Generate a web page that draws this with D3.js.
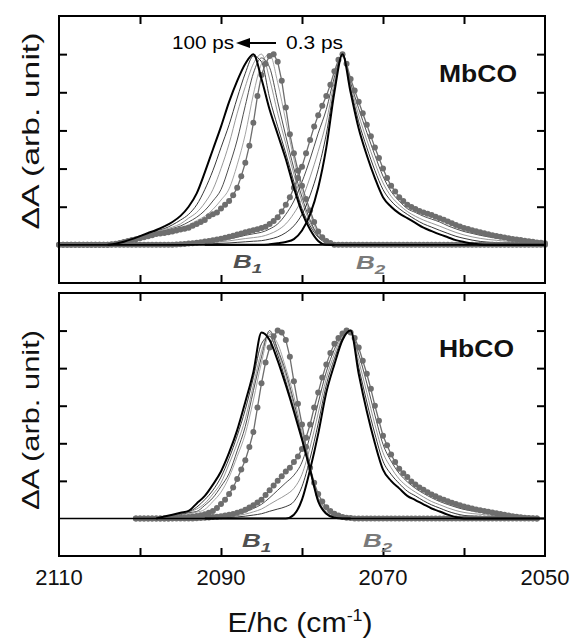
<!DOCTYPE html>
<html>
<head>
<meta charset="utf-8">
<script src="https://cdn.jsdelivr.net/npm/d3@7"></script>
<style>
  body { margin: 0; background: #fff; }
  svg { display: block; font-family: "Liberation Sans", Arial, sans-serif; }
</style>
</head>
<body>
<svg id="chart" width="575" height="639"></svg>
<script>
// ---- sampling grids (cm-1) ----
// traces are sampled every 1 cm-1, the 0.3 ps (dotted) spectra every 0.5 cm-1
var mbB1Start = 2104, mbB2Start = 2092;
var hbB1Start = 2098, hbB2Start = 2092;
var mbDotStart = 2110, hbDotStart = 2100.5, dotStep = 0.5;

var xTicks = [2100, 2090, 2080, 2070, 2060];
var xTickLabels = [2110, 2090, 2070, 2050];
var yTicks = [0.2, 0.4, 0.6, 0.8, 1.0];

// ---- MbCO, B1 band ----
var mbB1_100ps = [0, 0.006, 0.016, 0.03, 0.046, 0.062, 0.078, 0.097, 0.12, 0.152, 0.20, 0.27, 0.38, 0.50, 0.62,
    0.75, 0.86, 0.95, 1.0, 0.87, 0.71, 0.58, 0.45, 0.30, 0.17, 0.08, 0.02, 0, 0];
var mbB1_mid = [
    [0, 0.01, 0.02, 0.03, 0.045, 0.06, 0.075, 0.085, 0.105, 0.13, 0.16, 0.21, 0.29, 0.39, 0.51,
        0.63, 0.77, 0.90, 0.99, 0.96, 0.77, 0.62, 0.48, 0.33, 0.19, 0.10, 0.04, 0.01, 0],
    [0, 0.01, 0.019, 0.028, 0.04, 0.053, 0.067, 0.08, 0.093, 0.11, 0.14, 0.17, 0.22, 0.29, 0.40,
        0.53, 0.69, 0.83, 0.95, 1.0, 0.87, 0.69, 0.53, 0.37, 0.225, 0.117, 0.044, 0.012, 0],
    [0, 0.009, 0.018, 0.027, 0.038, 0.05, 0.061, 0.074, 0.086, 0.099, 0.12, 0.145, 0.18, 0.23, 0.29,
        0.41, 0.55, 0.73, 0.90, 0.98, 0.93, 0.75, 0.57, 0.40, 0.25, 0.13, 0.047, 0.018, 0],
    [0, 0.009, 0.018, 0.027, 0.036, 0.047, 0.057, 0.068, 0.08, 0.091, 0.105, 0.127, 0.15, 0.186, 0.235,
        0.294, 0.42, 0.58, 0.79, 0.95, 1.0, 0.85, 0.65, 0.45, 0.28, 0.16, 0.06, 0.024, 0]
];
var mbB1_03ps = [
    0, 0, 0, 0, 0, 0, 0, 0, 0, 0, 0, 0, 0,
    0.003, 0.006, 0.01, 0.015, 0.02, 0.025, 0.03, 0.035, 0.04, 0.045,
    0.05, 0.057, 0.06, 0.062, 0.066, 0.07, 0.075, 0.08, 0.085, 0.09,
    0.10, 0.11, 0.12, 0.13, 0.15, 0.16, 0.17, 0.19, 0.21, 0.23,
    0.26, 0.30, 0.36, 0.43, 0.52, 0.64, 0.78, 0.89, 0.95, 0.99,
    1.0, 0.96, 0.86, 0.72, 0.58, 0.48, 0.39, 0.31, 0.24, 0.18,
    0.12, 0.07, 0.04, 0.02, 0.01, 0,
    0, 0, 0, 0, 0, 0, 0, 0, 0, 0,
    0, 0, 0, 0, 0, 0, 0, 0, 0, 0,
    0, 0, 0, 0, 0, 0, 0, 0, 0, 0,
    0, 0, 0, 0, 0, 0, 0, 0, 0, 0,
    0, 0, 0, 0, 0, 0, 0, 0, 0, 0,
    0, 0
];

// ---- MbCO, B2 band ----
var mbB2_100ps = [0, 0, 0, 0, 0, 0, 0, 0,
    0.003, 0.008, 0.015, 0.03, 0.075, 0.16, 0.30, 0.51, 0.80, 1.0, 0.80, 0.61, 0.47, 0.35, 0.25,
    0.20, 0.165, 0.14, 0.115, 0.09, 0.072, 0.055, 0.04, 0.025, 0.015, 0.007, 0.002,
    0, 0, 0, 0, 0, 0, 0, 0];
var mbB2_mid = [
    [0.004, 0.006, 0.008, 0.01, 0.013, 0.016, 0.019, 0.022, 0.03, 0.042, 0.064, 0.10, 0.16, 0.26, 0.395,
        0.58, 0.83, 1, 0.82, 0.645, 0.51, 0.39, 0.29, 0.23, 0.19, 0.16, 0.133, 0.11, 0.093, 0.076,
        0.06, 0.045, 0.034, 0.025, 0.018, 0.014, 0.012, 0.01, 0.008, 0.006, 0.005, 0.003, 0.002],
    [0.008, 0.012, 0.016, 0.021, 0.027, 0.033, 0.038, 0.044, 0.057, 0.077, 0.11, 0.165, 0.24, 0.355, 0.49,
        0.645, 0.855, 1, 0.835, 0.68, 0.55, 0.43, 0.325, 0.255, 0.21, 0.175, 0.15, 0.13, 0.114, 0.098,
        0.081, 0.065, 0.052, 0.042, 0.034, 0.028, 0.024, 0.02, 0.016, 0.013, 0.01, 0.007, 0.005],
    [0.013, 0.018, 0.024, 0.031, 0.04, 0.05, 0.058, 0.066, 0.083, 0.11, 0.16, 0.23, 0.33, 0.45, 0.585,
        0.71, 0.88, 1, 0.85, 0.715, 0.59, 0.47, 0.36, 0.28, 0.23, 0.19, 0.17, 0.15, 0.135, 0.12,
        0.10, 0.084, 0.07, 0.06, 0.05, 0.042, 0.035, 0.03, 0.023, 0.019, 0.014, 0.01, 0.007]
];
var mbB2_03ps = [
    0, 0, 0, 0, 0, 0, 0, 0, 0, 0,
    0, 0, 0, 0, 0, 0, 0, 0, 0, 0,
    0, 0, 0, 0, 0, 0, 0, 0,
    0.001, 0.002, 0.003, 0.005, 0.007, 0.009, 0.011, 0.014, 0.017, 0.02,
    0.024, 0.028, 0.032, 0.037, 0.042, 0.048, 0.054, 0.06, 0.066, 0.072,
    0.077, 0.082, 0.088, 0.095, 0.11, 0.125, 0.145, 0.175, 0.21, 0.25,
    0.30, 0.35, 0.41, 0.48, 0.55, 0.62, 0.68, 0.73, 0.78, 0.84,
    0.91, 0.97, 1.0, 0.95, 0.87, 0.81, 0.75, 0.69, 0.63, 0.57,
    0.51, 0.455, 0.40, 0.35, 0.31, 0.28, 0.25, 0.23, 0.21, 0.198,
    0.188, 0.178, 0.17, 0.163, 0.156, 0.148, 0.14, 0.131, 0.122, 0.113,
    0.104, 0.096, 0.089, 0.083, 0.077, 0.071, 0.066, 0.061, 0.056, 0.051,
    0.047, 0.043, 0.039, 0.035, 0.031, 0.028, 0.025, 0.022, 0.019, 0.016,
    0.013, 0.011, 0.009
];

// ---- HbCO, B1 band ----
var hbB1_100ps = [0, 0.01, 0.02, 0.03, 0.04, 0.08, 0.12, 0.18, 0.25, 0.35, 0.47, 0.62, 0.78, 0.99, 0.95,
    0.84, 0.71, 0.57, 0.42, 0.26, 0.09, 0.025, 0.004, 0, 0];
var hbB1_mid = [
    [0, 0.006, 0.016, 0.026, 0.035, 0.06, 0.10, 0.15, 0.22, 0.32, 0.44, 0.58, 0.75, 0.93, 0.97,
        0.87, 0.73, 0.58, 0.42, 0.25, 0.10, 0.03, 0.01, 0.002, 0],
    [0, 0.004, 0.014, 0.024, 0.034, 0.05, 0.08, 0.13, 0.19, 0.29, 0.40, 0.53, 0.71, 0.89, 0.99,
        0.89, 0.76, 0.60, 0.43, 0.25, 0.10, 0.04, 0.012, 0.004, 0],
    [0, 0.001, 0.01, 0.02, 0.03, 0.037, 0.07, 0.11, 0.17, 0.24, 0.36, 0.49, 0.68, 0.86, 1.0,
        0.90, 0.78, 0.62, 0.44, 0.26, 0.11, 0.05, 0.014, 0.005, 0],
    [0, 0, 0.007, 0.016, 0.025, 0.033, 0.048, 0.09, 0.14, 0.22, 0.33, 0.45, 0.63, 0.83, 0.98,
        0.93, 0.80, 0.65, 0.46, 0.27, 0.11, 0.055, 0.018, 0.006, 0]
];
var hbB1_03ps = [
    0, 0, 0, 0, 0, 0, 0, 0, 0,
    0.001, 0.002, 0.003, 0.005, 0.007, 0.01, 0.013, 0.017, 0.022, 0.03,
    0.04, 0.055, 0.077, 0.10, 0.13, 0.165, 0.21, 0.26, 0.31, 0.38,
    0.46, 0.59, 0.72, 0.83, 0.91, 0.97, 1.0, 0.99, 0.95, 0.86,
    0.73, 0.61, 0.50, 0.38, 0.27, 0.19, 0.13, 0.09, 0.06, 0.04,
    0.025, 0.015, 0.008, 0.004, 0.002,
    0, 0, 0, 0, 0, 0, 0, 0, 0, 0,
    0, 0, 0, 0, 0, 0, 0, 0, 0, 0,
    0, 0, 0, 0, 0, 0, 0, 0, 0, 0,
    0, 0, 0, 0, 0, 0, 0, 0, 0, 0,
    0, 0, 0, 0, 0, 0
];

// ---- HbCO, B2 band ----
var hbB2_100ps = [0, 0, 0, 0, 0, 0, 0, 0, 0, 0, 0,
    0.02, 0.10, 0.26, 0.45, 0.67, 0.82, 0.95, 1.0, 0.77, 0.57, 0.40, 0.26, 0.20, 0.16, 0.12,
    0.098, 0.075, 0.053, 0.037, 0.02, 0.007,
    0, 0, 0, 0, 0, 0, 0, 0, 0, 0, 0];
var hbB2_mid = [
    [0.001, 0.002, 0.003, 0.005, 0.008, 0.012, 0.018, 0.025, 0.038, 0.05, 0.063, 0.09, 0.17, 0.32, 0.505,
        0.71, 0.85, 0.96, 1, 0.805, 0.62, 0.45, 0.305, 0.235, 0.186, 0.145, 0.12, 0.094, 0.072, 0.055,
        0.038, 0.025, 0.016, 0.013, 0.011, 0.009, 0.007, 0.005, 0.003, 0.002, 0, 0, 0],
    [0.002, 0.004, 0.006, 0.01, 0.015, 0.023, 0.035, 0.05, 0.075, 0.10, 0.125, 0.16, 0.235, 0.38, 0.56,
        0.745, 0.875, 0.97, 0.995, 0.84, 0.67, 0.50, 0.35, 0.27, 0.21, 0.17, 0.14, 0.114, 0.09, 0.073,
        0.056, 0.042, 0.032, 0.026, 0.022, 0.018, 0.014, 0.01, 0.006, 0.003, 0.001, 0, 0],
    [0.002, 0.005, 0.009, 0.014, 0.023, 0.035, 0.053, 0.075, 0.11, 0.15, 0.19, 0.23, 0.30, 0.44, 0.615,
        0.78, 0.90, 0.975, 0.99, 0.875, 0.72, 0.55, 0.395, 0.305, 0.24, 0.195, 0.16, 0.133, 0.11, 0.09,
        0.074, 0.06, 0.048, 0.04, 0.033, 0.027, 0.021, 0.015, 0.009, 0.005, 0.002, 0, 0]
];
var hbB2_03ps = [
    0, 0, 0, 0, 0, 0, 0, 0, 0, 0, 0, 0, 0, 0, 0,
    0.001, 0.002, 0.003, 0.005, 0.007, 0.009, 0.012, 0.015, 0.019, 0.024,
    0.03, 0.037, 0.046, 0.058, 0.07, 0.085, 0.10, 0.125, 0.15, 0.175,
    0.20, 0.225, 0.25, 0.27, 0.30, 0.33, 0.37, 0.43, 0.50, 0.59,
    0.67, 0.75, 0.82, 0.88, 0.93, 0.96, 0.985, 1.0, 0.99, 0.96,
    0.91, 0.84, 0.77, 0.69, 0.60, 0.52, 0.44, 0.39, 0.34, 0.30,
    0.265, 0.24, 0.22, 0.197, 0.18, 0.165, 0.152, 0.14, 0.128, 0.118,
    0.108, 0.1, 0.092, 0.084, 0.077, 0.07, 0.064, 0.058, 0.053, 0.048,
    0.044, 0.04, 0.036, 0.032, 0.028, 0.024, 0.02, 0.016, 0.012, 0.009,
    0.006, 0.004, 0.002, 0.001, 0
];

var svg = d3.select("#chart");

var left = 59, right = 545;
var x = d3.scaleLinear().domain([2110, 2050]).range([left, right]);

var midColors = ["#222", "#8c8c8c", "#3a3a3a", "#9a9a9a"];
var dotColor = "#6e6e6e";

function toPts(start, step, vals) {
    return vals.map(function (v, i) { return [start - i * step, v]; });
}

function drawPanel(p) {
    var y = d3.scaleLinear().domain([-0.2, 1.2]).range([p.bottom, p.top]);
    var g = svg.append("g");

    var line = d3.line()
        .x(function (d) { return x(d[0]); })
        .y(function (d) { return y(d[1]); })
        .curve(d3.curveMonotoneX);
    var straight = d3.line()
        .x(function (d) { return x(d[0]); })
        .y(function (d) { return y(d[1]); });

    // intermediate delays
    p.bands.forEach(function (b) {
        b.mid.forEach(function (vals, i) {
            g.append("path")
                .datum(toPts(b.start, 1, vals))
                .attr("fill", "none")
                .attr("stroke", midColors[i % midColors.length])
                .attr("stroke-width", 0.9)
                .attr("d", line);
        });
    });

    // 0.3 ps spectra (grey, with markers)
    p.bands.forEach(function (b) {
        var pts = toPts(p.dotStart, dotStep, b.early);
        g.append("path")
            .datum(pts)
            .attr("fill", "none")
            .attr("stroke", dotColor)
            .attr("stroke-width", 1.3)
            .attr("d", straight);
        g.append("g").selectAll("circle")
            .data(pts)
            .enter()
            .append("circle")
            .attr("cx", function (d) { return x(d[0]); })
            .attr("cy", function (d) { return y(d[1]); })
            .attr("r", 3)
            .attr("fill", dotColor);
    });

    // 100 ps spectra (thick black)
    p.bands.forEach(function (b) {
        g.append("path")
            .datum(toPts(b.start, 1, b.late))
            .attr("fill", "none")
            .attr("stroke", "#000")
            .attr("stroke-width", 2)
            .attr("d", line);
    });

    // zero line
    g.append("line")
        .attr("x1", left).attr("x2", right)
        .attr("y1", y(0)).attr("y2", y(0))
        .attr("stroke", "#000")
        .attr("stroke-width", 1.6);

    // inward ticks on all four sides
    var axes = [
        d3.axisBottom(x).tickValues(xTicks), "translate(0," + p.top + ")",
        d3.axisTop(x).tickValues(xTicks), "translate(0," + p.bottom + ")",
        d3.axisRight(y).tickValues(yTicks), "translate(" + left + ",0)",
        d3.axisLeft(y).tickValues(yTicks), "translate(" + right + ",0)"
    ];
    for (var i = 0; i < axes.length; i += 2) {
        var a = g.append("g")
            .attr("transform", axes[i + 1])
            .call(axes[i].tickSize(8).tickFormat(""));
        a.select(".domain").remove();
        a.selectAll("line").attr("stroke", "#000").attr("stroke-width", 2);
    }

    g.append("rect")
        .attr("x", left).attr("y", p.top)
        .attr("width", right - left).attr("height", p.bottom - p.top)
        .attr("fill", "none")
        .attr("stroke", "#000")
        .attr("stroke-width", 2);

    // sample name
    g.append("text")
        .attr("x", 439).attr("y", p.nameY)
        .attr("font-size", 23)
        .attr("font-weight", "bold")
        .attr("textLength", p.nameLen)
        .attr("lengthAdjust", "spacingAndGlyphs")
        .attr("fill", "#111")
        .text(p.name);

    // band labels
    p.bandLabels.forEach(function (bl) {
        var t = g.append("text")
            .attr("transform", "translate(" + bl.x + "," + bl.y + ") scale(1.45,1)")
            .attr("font-size", 18)
            .attr("font-weight", "bold")
            .attr("font-style", "italic")
            .attr("fill", bl.color);
        t.append("tspan").text("B");
        t.append("tspan").attr("font-size", 13).attr("dy", 5).text(bl.sub);
    });

    // y label
    g.append("text")
        .attr("transform", "translate(39," + p.labelY + ") rotate(-90)")
        .attr("text-anchor", "middle")
        .attr("font-size", 24)
        .attr("textLength", p.labelLen)
        .attr("lengthAdjust", "spacingAndGlyphs")
        .attr("fill", "#111")
        .text("\u0394A (arb. unit)");

    return y;
}

drawPanel({
    top: 16, bottom: 283, name: "MbCO", nameY: 82, nameLen: 78,
    labelY: 131, labelLen: 197, dotStart: mbDotStart,
    bands: [
        { start: mbB1Start, late: mbB1_100ps, mid: mbB1_mid, early: mbB1_03ps },
        { start: mbB2Start, late: mbB2_100ps, mid: mbB2_mid, early: mbB2_03ps }
    ],
    bandLabels: [
        { x: 233, y: 268, sub: "1", color: "#505050" },
        { x: 356, y: 269, sub: "2", color: "#7a7a7a" }
    ]
});

drawPanel({
    top: 293, bottom: 556, name: "HbCO", nameY: 357, nameLen: 75,
    labelY: 420, labelLen: 180, dotStart: hbDotStart,
    bands: [
        { start: hbB1Start, late: hbB1_100ps, mid: hbB1_mid, early: hbB1_03ps },
        { start: hbB2Start, late: hbB2_100ps, mid: hbB2_mid, early: hbB2_03ps }
    ],
    bandLabels: [
        { x: 242, y: 547, sub: "1", color: "#505050" },
        { x: 363, y: 547, sub: "2", color: "#7a7a7a" }
    ]
});

// time annotation in the top panel
svg.append("text")
    .attr("x", 172).attr("y", 49)
    .attr("font-size", 18)
    .attr("textLength", 62)
    .attr("lengthAdjust", "spacingAndGlyphs")
    .text("100 ps");
svg.append("line")
    .attr("x1", 246).attr("x2", 276)
    .attr("y1", 43).attr("y2", 43)
    .attr("stroke", "#000").attr("stroke-width", 2);
svg.append("polygon")
    .attr("points", "236,43 250,38 250,48")
    .attr("fill", "#000");
svg.append("text")
    .attr("x", 286).attr("y", 49)
    .attr("font-size", 18)
    .attr("textLength", 57)
    .attr("lengthAdjust", "spacingAndGlyphs")
    .text("0.3 ps");

// x tick labels under the lower panel
svg.append("g").selectAll("text")
    .data(xTickLabels)
    .enter()
    .append("text")
    .attr("x", function (d) { return x(d); })
    .attr("y", 585)
    .attr("text-anchor", "middle")
    .attr("font-size", 22)
    .attr("fill", "#111")
    .text(function (d) { return d; });

// x axis title
var xt = svg.append("text")
    .attr("transform", "translate(300,632) scale(1.12,1)")
    .attr("text-anchor", "middle")
    .attr("font-size", 27)
    .attr("fill", "#111");
xt.append("tspan").text("E/hc (cm");
xt.append("tspan").attr("font-size", 16).attr("dy", -11).text("-1");
xt.append("tspan").attr("dy", 11).text(")");
</script>
</body>
</html>
